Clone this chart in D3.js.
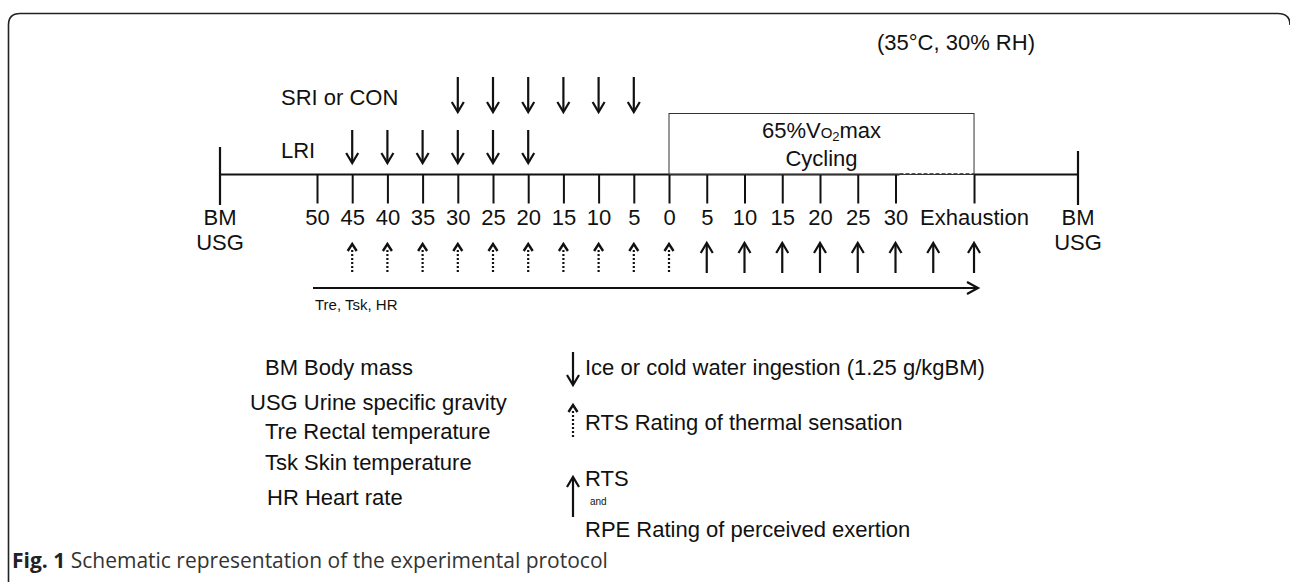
<!DOCTYPE html>
<html>
<head>
<meta charset="utf-8">
<script src="https://cdn.jsdelivr.net/npm/d3@7"></script>
<style>
  body { margin: 0; background: #fff; }
  svg text { font-family: "Liberation Sans", Arial, sans-serif; fill: #111; }
</style>
</head>
<body>
<div id="fig"></div>
<script>
// time points (minutes before / after start of cycling)
var tickTimes = [-50, -45, -40, -35, -30, -25, -20, -15, -10, -5, 0, 5, 10, 15, 20, 25, 30, 40.4]
var tickLabels = ["50", "45", "40", "35", "30", "25", "20", "15", "10", "5", "0", "5", "10", "15", "20", "25", "30", "Exhaustion"]
var sriTimes = [-30, -25, -20, -15, -10, -5]     // SRI or CON ingestion
var lriTimes = [-45, -40, -35, -30, -25, -20]    // LRI ingestion
var rtsTimes = [-45, -40, -35, -30, -25, -20, -15, -10, -5, 0]   // RTS only (dotted)
var rtsRpeTimes = [5, 10, 15, 20, 25, 30, 35, 40.4]              // RTS and RPE (solid)
var legendLeft = ["BM Body mass", "USG Urine specific gravity", "Tre Rectal temperature", "Tsk Skin temperature", "HR Heart rate"]
var legendRight = ["Ice or cold water ingestion (1.25 g/kgBM)", "RTS Rating of thermal sensation", "RTS", "and", "RPE Rating of perceived exertion"]

var W = 1290, H = 582
var axisY = 174.5

var svg = d3.select("#fig").append("svg")
    .attr("width", W)
    .attr("height", H)

// frame (open at the bottom)
svg.append("path")
    .attr("d", "M8.5," + H + " V25 Q8.5,13.5 20,13.5 H1278 Q1290,13.5 1290,25")
    .attr("fill", "none")
    .attr("stroke", "#222")
    .attr("stroke-width", 1.6)

// time scale: pre-exercise and cycling parts differ slightly in spacing
var x = d3.scaleLinear()
    .domain([-50, 0, 30])
    .range([317, 669, 895.5])

var bmLeft = 220, bmRight = 1078

// main time line
var g = svg.append("g")
g.append("line").attr("x1", bmLeft).attr("x2", x(30) + 4).attr("y1", axisY).attr("y2", axisY)
    .attr("stroke", "#111").attr("stroke-width", 2)
g.append("line").attr("x1", x(30) + 4).attr("x2", x(40.4)).attr("y1", axisY - 0.5).attr("y2", axisY - 0.5)
    .attr("stroke", "#222").attr("stroke-width", 1.6).attr("stroke-dasharray", "4,2")
g.append("line").attr("x1", x(40.4)).attr("x2", bmRight).attr("y1", axisY).attr("y2", axisY)
    .attr("stroke", "#111").attr("stroke-width", 2)

// BM / USG end markers
g.append("line").attr("x1", bmLeft).attr("x2", bmLeft).attr("y1", 147).attr("y2", 205)
    .attr("stroke", "#111").attr("stroke-width", 2.2)
g.append("line").attr("x1", bmRight).attr("x2", bmRight).attr("y1", 151).attr("y2", 205)
    .attr("stroke", "#111").attr("stroke-width", 2.2)
;[bmLeft, bmRight].forEach(function(cx) {
  g.append("text").attr("x", cx).attr("y", 225).attr("text-anchor", "middle").style("font-size", "22px").text("BM")
  g.append("text").attr("x", cx).attr("y", 250).attr("text-anchor", "middle").style("font-size", "22px").text("USG")
})

// ticks with labels
var axis = svg.append("g")
    .attr("transform", "translate(0," + axisY + ")")
    .call(d3.axisBottom(x)
      .tickValues(tickTimes)
      .tickSize(29)
      .tickSizeOuter(0)
      .tickFormat(function(d, i) { return tickLabels[i] }))
axis.select(".domain").remove()
axis.selectAll(".tick line").attr("stroke", "#111").attr("stroke-width", 2)
axis.selectAll(".tick text")
    .attr("y", 50.5).attr("dy", 0)
    .attr("fill", "#111")
    .style("font-size", "22px")
    .style("font-family", "'Liberation Sans', Arial, sans-serif")

// cycling box
var box = svg.append("g")
box.append("rect")
    .attr("x", x(0)).attr("y", 113.5)
    .attr("width", x(40.4) - x(0)).attr("height", axisY - 113.5)
    .attr("fill", "none").attr("stroke", "#333").attr("stroke-width", 1)
var vo2 = box.append("text")
    .attr("x", (x(0) + x(40.4)) / 2).attr("y", 138)
    .attr("text-anchor", "middle").style("font-size", "22px")
vo2.append("tspan").text("65%V")
vo2.append("tspan").style("font-size", "15px").text("O")
vo2.append("tspan").style("font-size", "13px").attr("dy", 3).text("2")
vo2.append("tspan").attr("dy", -3).text("max")
box.append("text")
    .attr("x", (x(0) + x(40.4)) / 2).attr("y", 166)
    .attr("text-anchor", "middle").style("font-size", "22px").text("Cycling")

// arrow helpers
function downArrow(sel, cx, y0, y1) {
  sel.append("line").attr("x1", cx).attr("x2", cx).attr("y1", y0).attr("y2", y1 - 1)
      .attr("stroke", "#111").attr("stroke-width", 2.2)
  sel.append("path").attr("d", "M" + (cx - 6) + "," + (y1 - 10) + " L" + cx + "," + y1 + " L" + (cx + 6) + "," + (y1 - 10))
      .attr("fill", "none").attr("stroke", "#111").attr("stroke-width", 2.2)
}
function upArrow(sel, cx, y0, y1) {
  sel.append("line").attr("x1", cx).attr("x2", cx).attr("y1", y0 + 1).attr("y2", y1)
      .attr("stroke", "#111").attr("stroke-width", 2.2)
  sel.append("path").attr("d", "M" + (cx - 6) + "," + (y0 + 10) + " L" + cx + "," + y0 + " L" + (cx + 6) + "," + (y0 + 10))
      .attr("fill", "none").attr("stroke", "#111").attr("stroke-width", 2.2)
}
function dottedUpArrow(sel, cx, y0, y1) {
  sel.append("line").attr("x1", cx).attr("x2", cx).attr("y1", y0 + 6).attr("y2", y1)
      .attr("stroke", "#111").attr("stroke-width", 2.2).attr("stroke-dasharray", "2,2")
  sel.append("path").attr("d", "M" + (cx - 4.5) + "," + (y0 + 7) + " L" + cx + "," + y0 + " L" + (cx + 4.5) + "," + (y0 + 7))
      .attr("fill", "none").attr("stroke", "#111").attr("stroke-width", 2.4)
}

// ingestion arrows
var ing = svg.append("g")
ing.append("text").attr("x", 281).attr("y", 105).style("font-size", "22px").text("SRI or CON")
ing.append("text").attr("x", 281).attr("y", 158).style("font-size", "22px").text("LRI")
sriTimes.forEach(function(t) { downArrow(ing, x(t), 77, 112) })
lriTimes.forEach(function(t) { downArrow(ing, x(t), 130, 163) })

// rating arrows
var rat = svg.append("g")
rtsTimes.forEach(function(t) { dottedUpArrow(rat, x(t), 244, 273) })
rtsRpeTimes.forEach(function(t) { upArrow(rat, x(t), 243, 273) })

// measurement arrow
rat.append("line").attr("x1", 313).attr("x2", 977).attr("y1", 288).attr("y2", 288)
    .attr("stroke", "#111").attr("stroke-width", 2.2)
rat.append("path").attr("d", "M967,282 L978,288 L967,294")
    .attr("fill", "none").attr("stroke", "#111").attr("stroke-width", 2.2)
rat.append("text").attr("x", 315).attr("y", 310).style("font-size", "15px").text("Tre, Tsk, HR")

// environment
svg.append("text").attr("x", 877).attr("y", 50).style("font-size", "22px").text("(35\u00b0C, 30% RH)")

// legend, left column
var legL = svg.append("g")
var legLx = [265, 250, 265, 265, 267]
var legLy = [375, 410, 439, 470, 505]
legL.selectAll("text").data(legendLeft).enter().append("text")
    .attr("x", function(d, i) { return legLx[i] })
    .attr("y", function(d, i) { return legLy[i] })
    .style("font-size", "22px")
    .text(function(d) { return d })

// legend, right column
var legR = svg.append("g")
downArrow(legR, 573, 352, 385)
dottedUpArrow(legR, 573, 405, 437)
upArrow(legR, 573, 477, 517)
legR.append("text").attr("x", 585).attr("y", 375).style("font-size", "22px").text(legendRight[0])
legR.append("text").attr("x", 585).attr("y", 430).style("font-size", "22px").text(legendRight[1])
legR.append("text").attr("x", 585).attr("y", 486).style("font-size", "22px").text(legendRight[2])
legR.append("text").attr("x", 590).attr("y", 505).style("font-size", "10px").text(legendRight[3])
legR.append("text").attr("x", 585).attr("y", 537).style("font-size", "22px").text(legendRight[4])

// caption
var cap = svg.append("text").attr("x", 12).attr("y", 568)
    .style("font-family", "'Open Sans', 'Noto Sans', sans-serif").style("font-size", "21px")
cap.append("tspan").style("font-weight", "bold").attr("fill", "#222").text("Fig. 1")
cap.append("tspan").attr("fill", "#333").text(" Schematic representation of the experimental protocol")
</script>
</body>
</html>
